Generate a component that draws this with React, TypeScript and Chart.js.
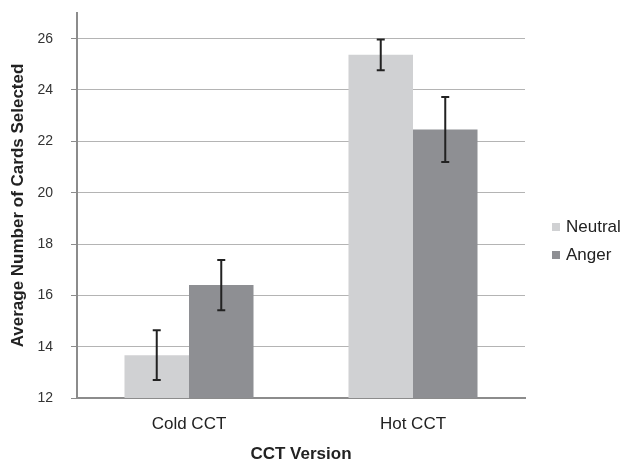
import React, { useEffect, useRef } from "react";
import { Chart, registerables } from "chart.js";

Chart.register(...registerables);

const categories = ["Cold CCT", "Hot CCT"];
const seriesNames = ["Neutral", "Anger"];
const neutralValues = [13.67, 25.37];
const angerValues = [16.4, 22.46];
const neutralErrors = [0.97, 0.6];
const angerErrors = [0.98, 1.27];
const yTicks = [12, 14, 16, 18, 20, 22, 24, 26];
const colors = ["#d0d1d3", "#8e8f93"];

const errorBarPlugin = {
  id: "errorBars",
  afterDatasetsDraw(chart: any) {
    const ctx = chart.ctx;
    const y = chart.scales.y;
    const errs = [neutralErrors, angerErrors];
    ctx.save();
    ctx.strokeStyle = "#222222";
    ctx.lineWidth = 2;
    chart.data.datasets.forEach((ds: any, di: number) => {
      const meta = chart.getDatasetMeta(di);
      meta.data.forEach((bar: any, i: number) => {
        const v = ds.data[i];
        const e = errs[di][i];
        const x = bar.x;
        const yt = y.getPixelForValue(v + e);
        const yb = y.getPixelForValue(v - e);
        ctx.beginPath();
        ctx.moveTo(x, yt);
        ctx.lineTo(x, yb);
        ctx.moveTo(x - 4, yt);
        ctx.lineTo(x + 4, yt);
        ctx.moveTo(x - 4, yb);
        ctx.lineTo(x + 4, yb);
        ctx.stroke();
      });
    });
    ctx.restore();
  },
};

const legendPlugin = {
  id: "sideLegend",
  afterDraw(chart: any) {
    const ctx = chart.ctx;
    const x0 = chart.chartArea.right + 27;
    const yc = 227;
    ctx.save();
    ctx.font = "17px 'Liberation Sans', Arial, sans-serif";
    ctx.textBaseline = "middle";
    ctx.textAlign = "left";
    chart.data.datasets.forEach((ds: any, i: number) => {
      const yy = yc + i * 28;
      ctx.fillStyle = ds.backgroundColor;
      ctx.fillRect(x0, yy - 4, 8, 8);
      ctx.fillStyle = "#222222";
      ctx.fillText(ds.label, x0 + 14, yy);
    });
    ctx.restore();
  },
};

export default function App() {
  const ref = useRef<HTMLCanvasElement>(null);
  useEffect(() => {
    const chart = new Chart(ref.current!, {
      type: "bar",
      data: {
        labels: categories,
        datasets: [
          { label: seriesNames[0], data: neutralValues, backgroundColor: colors[0] },
          { label: seriesNames[1], data: angerValues, backgroundColor: colors[1] },
        ],
      },
      options: {
        animation: false,
        responsive: true,
        maintainAspectRatio: false,
        layout: { padding: { top: 13, right: 96, left: 0, bottom: 0 } },
        plugins: { legend: { display: false }, tooltip: { enabled: false } },
        datasets: { bar: { categoryPercentage: 0.576, barPercentage: 1 } },
        scales: {
          x: {
            grid: { display: false, drawTicks: false },
            border: { display: true, color: "#8c8c8c", width: 2 },
            ticks: {
              color: "#222222",
              padding: 16,
              font: { family: "'Liberation Sans', Arial, sans-serif", size: 17 },
            },
            title: {
              display: true,
              text: "CCT Version",
              color: "#222222",
              padding: { top: 0, bottom: 1 },
              font: { family: "'Liberation Sans', Arial, sans-serif", size: 17, weight: "bold" },
            },
            afterFit(scale: any) {
              scale.height = 68;
              scale.paddingLeft = 0;
              scale.paddingRight = 0;
            },
          },
          y: {
            min: 12,
            max: 27,
            grid: { color: "#b4b4b4", lineWidth: 1, tickLength: 6, tickColor: "#8c8c8c" },
            border: { display: true, color: "#8c8c8c", width: 2 },
            afterBuildTicks(scale: any) {
              scale.ticks = yTicks.map((v) => ({ value: v }));
            },
            ticks: {
              color: "#333333",
              padding: 18,
              font: { family: "'Liberation Sans', Arial, sans-serif", size: 14 },
            },
            title: {
              display: true,
              text: "Average Number of Cards Selected",
              color: "#222222",
              padding: { top: 8, bottom: 0 },
              font: { family: "'Liberation Sans', Arial, sans-serif", size: 17, weight: "bold" },
            },
            afterFit(scale: any) {
              scale.width = 77;
              scale.paddingTop = 0;
              scale.paddingBottom = 0;
            },
          },
        },
      } as any,
      plugins: [errorBarPlugin, legendPlugin],
    });
    return () => chart.destroy();
  }, []);
  return (
    <div style={{ position: "fixed", left: 0, top: 0, width: 621, height: 466, background: "#fff" }}>
      <canvas ref={ref} />
    </div>
  );
}
